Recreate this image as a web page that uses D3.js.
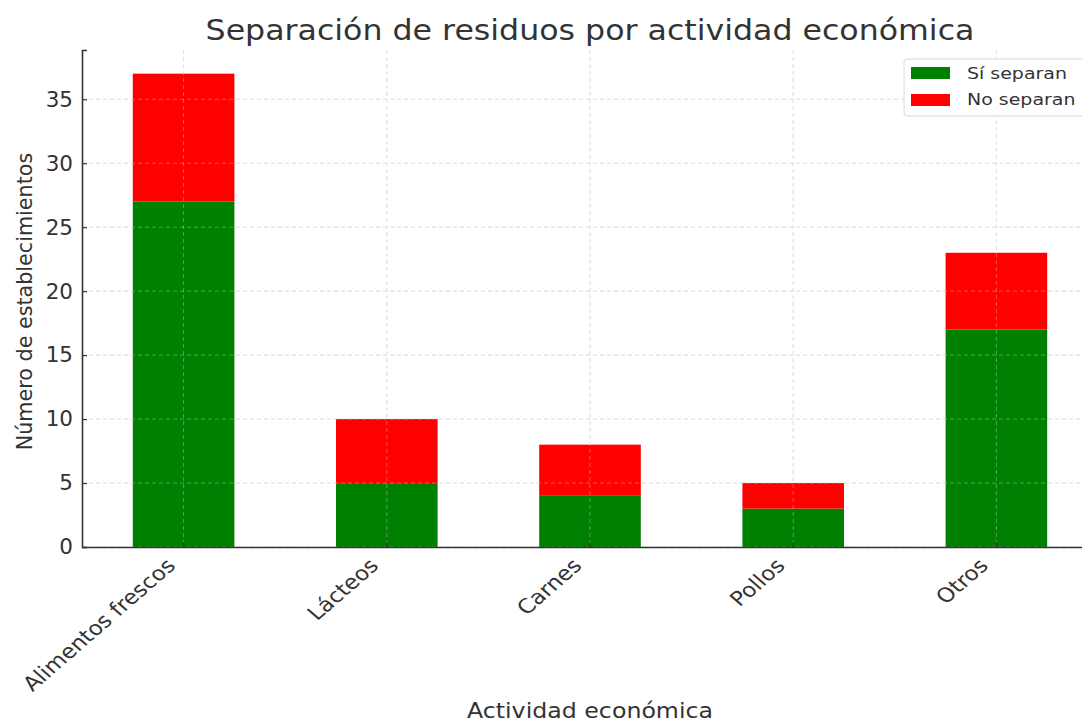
<!DOCTYPE html>
<html>
<head>
<meta charset="utf-8">
<script src="https://cdn.jsdelivr.net/npm/d3@7"></script>
<style>
  html, body { margin: 0; padding: 0; background: #fff; }
  svg { display: block; font-family: "DejaVu Sans", sans-serif; }
</style>
</head>
<body>
<svg id="chart" width="1082" height="722"></svg>
<script>
// Establishments per economic activity, split by whether they separate waste
const categories = ["Alimentos frescos", "Lácteos", "Carnes", "Pollos", "Otros"];
const siSeparan = [27, 5, 4, 3, 17];
const noSeparan = [10, 5, 4, 2, 6];
const seriesNames = ["Sí separan", "No separan"];
const seriesColors = ["#008000", "#ff0000"];
const yTicks = [0, 5, 10, 15, 20, 25, 30, 35];

const svg = d3.select("#chart");
const margin = { left: 82, right: -16, top: 50, bottom: 175 };
const W = 1082, H = 722;
const plotW = W - margin.left - margin.right;
const plotH = H - margin.top - margin.bottom;
const textColor = "#333";
const SX = 1.15; // horizontal widening of the lettering

const rows = categories.map((c, i) => ({ cat: c, si: siSeparan[i], no: noSeparan[i] }));
const stack = d3.stack().keys(["si", "no"])(rows);

const maxTotal = d3.max(rows, d => d.si + d.no);
const y = d3.scaleLinear().domain([0, maxTotal * 1.05]).range([plotH, 0]);
const x = d3.scaleBand().domain(categories).range([0, plotW]).paddingInner(0.5).paddingOuter(0.25);
const xc = c => x(c) + x.bandwidth() / 2;

const g = svg.append("g").attr("transform", `translate(${margin.left},${margin.top})`);

function gridLines(parent, color, opacity) {
  parent.selectAll("line.h").data(yTicks).enter().append("line").attr("class", "h")
    .attr("x1", 0).attr("x2", plotW)
    .attr("y1", d => y(d)).attr("y2", d => y(d))
    .attr("stroke", color).attr("stroke-opacity", opacity)
    .attr("stroke-width", 0.9).attr("stroke-dasharray", "4,3");
  parent.selectAll("line.v").data(categories).enter().append("line").attr("class", "v")
    .attr("x1", d => xc(d)).attr("x2", d => xc(d))
    .attr("y1", 0).attr("y2", plotH)
    .attr("stroke", color).attr("stroke-opacity", opacity)
    .attr("stroke-width", 0.9).attr("stroke-dasharray", "4,3");
}

// Grid behind the bars
gridLines(g.append("g"), "#cfcfcf", 1);

// Stacked bars
g.selectAll("g.layer").data(stack).enter().append("g")
  .attr("fill", (d, i) => seriesColors[i])
  .selectAll("rect").data(d => d).enter().append("rect")
  .attr("x", d => x(d.data.cat))
  .attr("width", x.bandwidth())
  .attr("y", d => y(d[1]))
  .attr("height", d => y(d[0]) - y(d[1]));

// Faint grid over the bars
gridLines(g.append("g"), "#ffffff", 0.35);

// Y axis (ticks pointing inward)
const yAxis = g.append("g").call(d3.axisLeft(y).tickValues(yTicks).tickSize(-5).tickPadding(9));
yAxis.select(".domain").attr("stroke", textColor).attr("stroke-width", 1.6);
yAxis.selectAll(".tick line").attr("stroke", textColor).attr("stroke-width", 1.2);
yAxis.selectAll(".tick text").attr("fill", textColor).attr("font-size", 21.5)
  .attr("font-family", "DejaVu Sans, sans-serif");

// X axis (ticks pointing inward, labels rotated)
const xAxis = g.append("g").attr("transform", `translate(0,${plotH})`)
  .call(d3.axisBottom(x).tickSize(-5).tickSizeOuter(0).tickPadding(0));
xAxis.select(".domain").attr("stroke", textColor).attr("stroke-width", 1.6);
xAxis.selectAll(".tick line").attr("stroke", textColor).attr("stroke-width", 1.2);
xAxis.selectAll(".tick text")
  .attr("fill", textColor).attr("font-size", 20)
  .attr("font-family", "DejaVu Sans, sans-serif")
  .attr("text-anchor", "end")
  .attr("x", 0).attr("y", 0).attr("dy", 0)
  .attr("transform", `translate(-7,20) scale(${SX},1) rotate(-45)`);

// Title
svg.append("text")
  .attr("transform", `translate(${margin.left + plotW / 2},40) scale(${SX},1)`)
  .attr("text-anchor", "middle").attr("fill", textColor)
  .attr("font-size", 27.5).text("Separación de residuos por actividad económica");

// Axis labels
svg.append("text")
  .attr("transform", `translate(${margin.left + plotW / 2},718) scale(${SX},1)`)
  .attr("text-anchor", "middle").attr("fill", textColor)
  .attr("font-size", 20.6).text("Actividad económica");
svg.append("text")
  .attr("transform", `translate(32,${margin.top + plotH / 2 + 3}) rotate(-90)`)
  .attr("text-anchor", "middle").attr("fill", textColor)
  .attr("font-size", 20.7).text("Número de establecimientos");

// Legend
const lg = svg.append("g").attr("transform", "translate(904,59)");
lg.append("rect").attr("x", 0).attr("y", 0).attr("width", 190).attr("height", 57)
  .attr("rx", 3).attr("fill", "#fff").attr("fill-opacity", 0.85)
  .attr("stroke", "#d8d8d8").attr("stroke-width", 1);
seriesNames.forEach((name, i) => {
  lg.append("rect").attr("x", 7).attr("y", 8 + i * 27).attr("width", 39).attr("height", 12)
    .attr("fill", seriesColors[i]);
  lg.append("text").attr("transform", `translate(63,${20 + i * 26}) scale(${SX},1)`)
    .attr("fill", textColor).attr("font-size", 16.5).text(name);
});
</script>
</body>
</html>
